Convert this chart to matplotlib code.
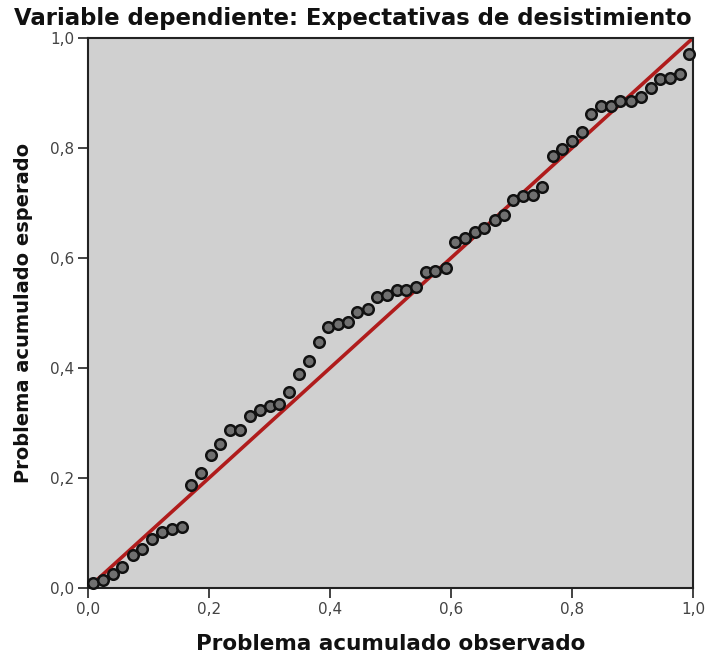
import matplotlib
matplotlib.use("Agg")
import matplotlib.pyplot as plt

title = "Variable dependiente: Expectativas de desistimiento"
x_label = "Problema acumulado observado"
y_label = "Problema acumulado esperado"

observed = [0.008, 0.025, 0.042, 0.057, 0.074, 0.090, 0.106, 0.123, 0.139, 0.155,
            0.171, 0.186, 0.203, 0.219, 0.235, 0.252, 0.268, 0.284, 0.300, 0.316,
            0.332, 0.348, 0.365, 0.381, 0.397, 0.413, 0.429, 0.445, 0.462, 0.477,
            0.494, 0.510, 0.526, 0.542, 0.558, 0.574, 0.591, 0.607, 0.623, 0.639,
            0.655, 0.672, 0.688, 0.703, 0.719, 0.735, 0.750, 0.768, 0.784, 0.800,
            0.817, 0.832, 0.848, 0.865, 0.880, 0.898, 0.914, 0.930, 0.945, 0.962,
            0.979, 0.994]
expected = [0.010, 0.014, 0.025, 0.039, 0.060, 0.071, 0.090, 0.101, 0.107, 0.111,
            0.187, 0.209, 0.241, 0.262, 0.288, 0.288, 0.313, 0.324, 0.331, 0.335,
            0.356, 0.390, 0.413, 0.447, 0.474, 0.480, 0.484, 0.502, 0.508, 0.530,
            0.533, 0.541, 0.541, 0.547, 0.575, 0.577, 0.581, 0.629, 0.637, 0.648,
            0.655, 0.670, 0.678, 0.705, 0.713, 0.715, 0.729, 0.785, 0.798, 0.813,
            0.829, 0.861, 0.876, 0.876, 0.886, 0.886, 0.893, 0.909, 0.925, 0.927,
            0.935, 0.971]

ref_line = [0.0, 1.0]
ticks = [0.0, 0.2, 0.4, 0.6, 0.8, 1.0]
tick_labels = ["0,0", "0,2", "0,4", "0,6", "0,8", "1,0"]

fig = plt.figure(figsize=(7.10, 6.55), dpi=100)
ax = fig.add_axes([88/710, 67/655, 605/710, 550/655])
ax.set_facecolor("#d0d0d0")

ax.plot(ref_line, ref_line, color="#b01c1c", linewidth=2.6, zorder=2)
ax.plot(observed, expected, linestyle="none", marker="o", markersize=7.6,
        markerfacecolor="#707070", markeredgecolor="#111111",
        markeredgewidth=1.8, zorder=3, clip_on=False)

ax.set_xlim(0, 1)
ax.set_ylim(0, 1)
ax.set_xticks(ticks)
ax.set_xticklabels(tick_labels)
ax.set_yticks(ticks)
ax.set_yticklabels(tick_labels)
ax.tick_params(axis="both", direction="out", length=7, width=1.2,
               labelsize=11, labelcolor="#444444", color="#222222", pad=3)
for s in ax.spines.values():
    s.set_color("#222222")
    s.set_linewidth(1.5)

ax.set_xlabel(x_label, fontsize=15.5, fontweight="bold", color="#111111", labelpad=12)
ax.set_ylabel(y_label, fontsize=14, fontweight="bold", color="#111111", labelpad=12)
fig.text(0.497, 0.972, title, ha="center", va="center", fontsize=16.4,
         fontweight="bold", color="#111111")

fig.savefig("out.png", dpi=100)
